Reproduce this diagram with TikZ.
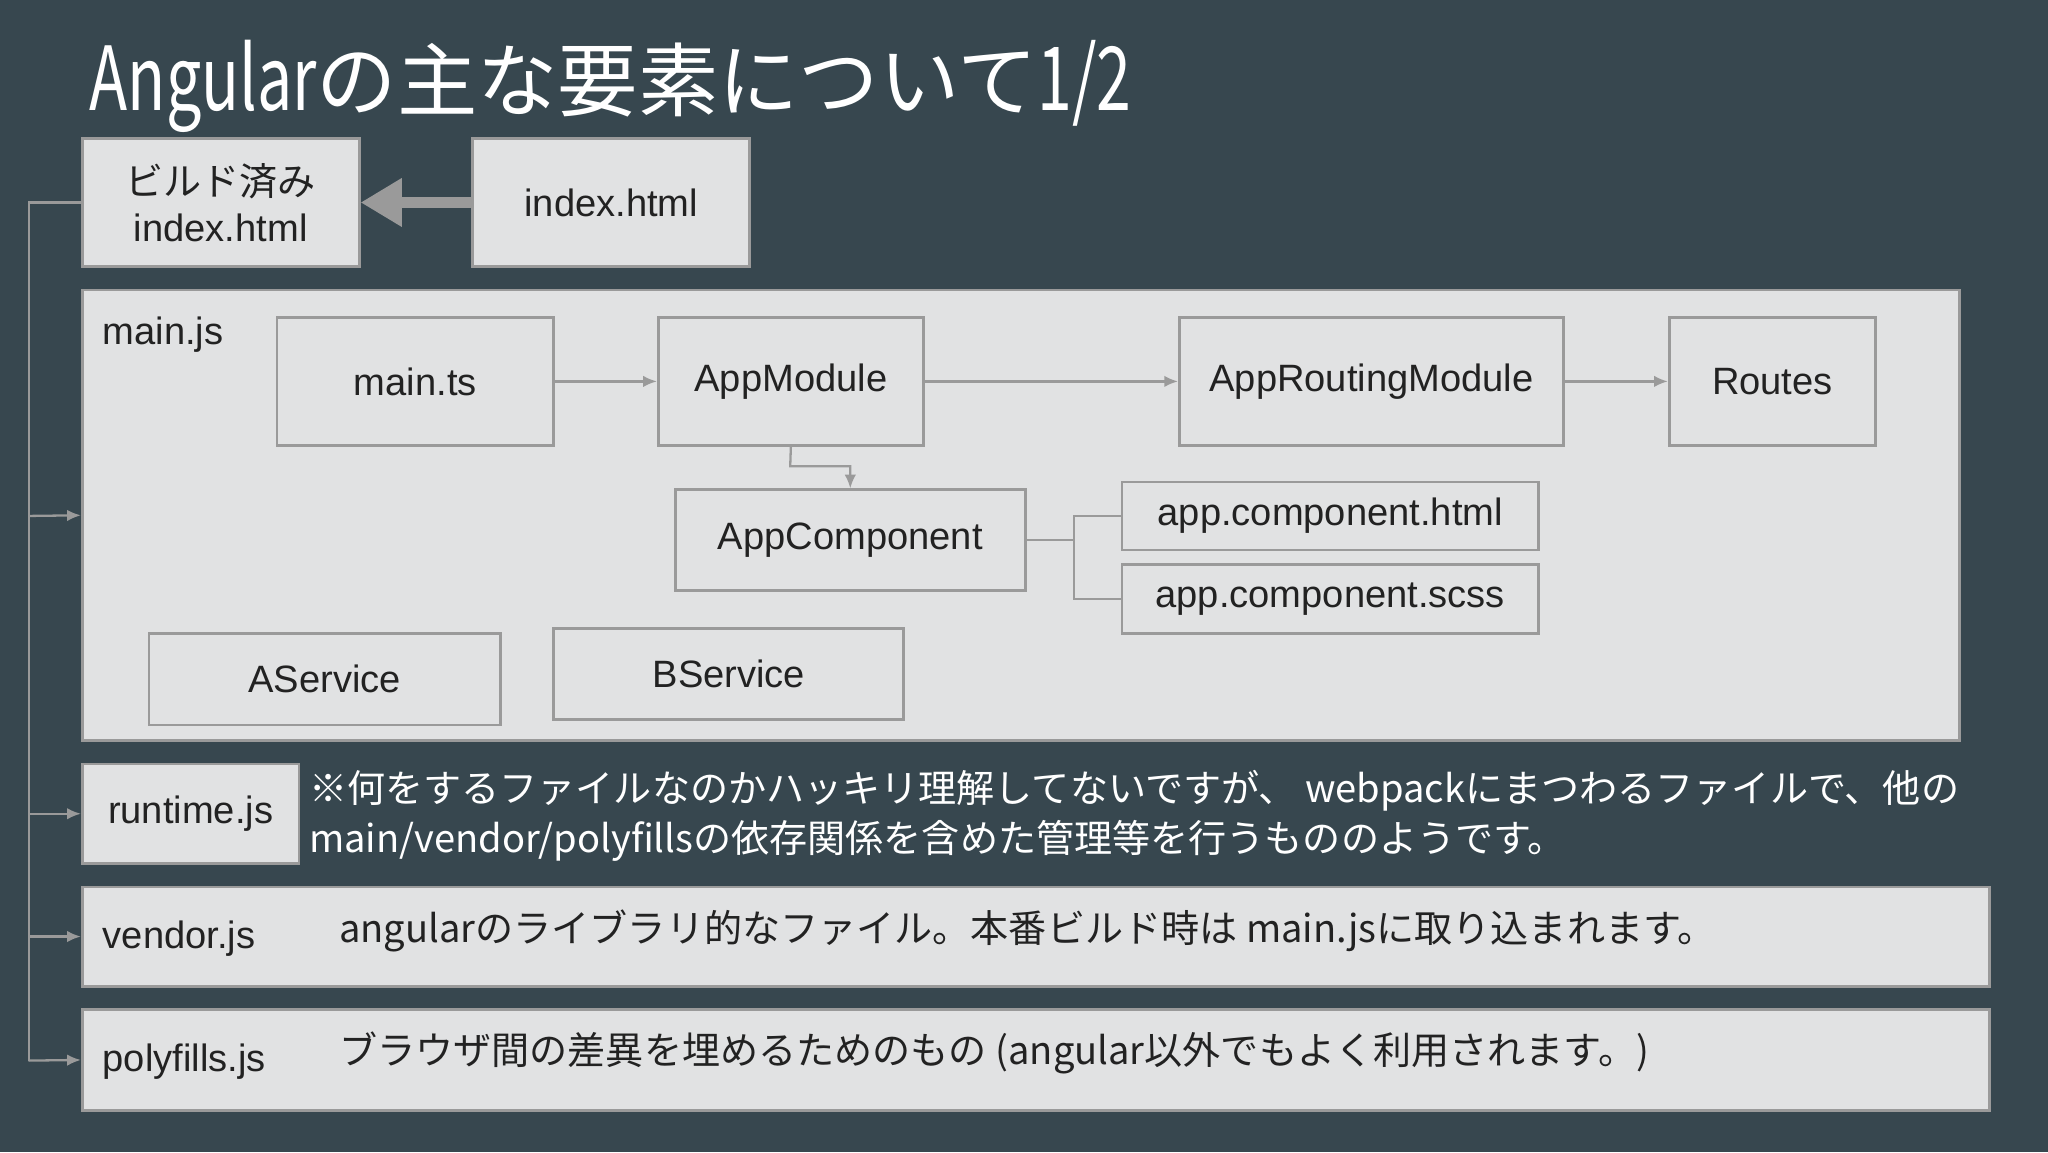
\documentclass[tikz,border=0pt]{standalone}
\usepackage{fontspec}
\setmainfont{Liberation Sans}
\newfontfamily\jp{Noto Sans CJK JP}
\usetikzlibrary{arrows.meta}
\definecolor{bg}{HTML}{37474F}
\definecolor{boxfill}{HTML}{E1E2E3}
\definecolor{boxline}{HTML}{9A9A9A}
\definecolor{txt}{HTML}{222222}
\tikzset{
 bx/.style={draw=boxline,fill=boxfill,line width=0.6pt,inner sep=0pt,text=txt,font=\fontsize{8.3pt}{10pt}\selectfont,align=center},
 conn/.style={draw=boxline,line width=0.5pt},
 arr/.style={conn,-{Latex[length=3pt,width=2.5pt]}},
 lbl/.style={text=txt,font=\fontsize{8.3pt}{10.5pt}\selectfont,inner sep=0pt,anchor=west,align=left}
}
\begin{document}
\begin{tikzpicture}
\fill[bg] (0,0) rectangle (15.68,-8.82);
\useasboundingbox (0,0) rectangle (15.68,-8.82);
\node[anchor=west,text=white,inner sep=0pt,font=\jp\fontsize{17.5pt}{20pt}\selectfont] (title) at (0.68,-0.66) {\scalebox{0.78}[1.1]{Angular}の主な要素について\scalebox{0.78}[1.1]{1/2}};
% top boxes
\node[bx,minimum width=2.12cm,minimum height=0.98cm] (built) at (1.69,-1.55) {{\jp ビルド済み}\\index.html};
\node[bx,minimum width=2.12cm,minimum height=0.98cm] (idx) at (4.68,-1.55) {index.html};
\draw[draw=boxline,line width=2.5pt,-{Triangle[length=9pt,width=10pt]}] (idx.west) -- (built.east);
% main.js
\node[bx,minimum width=14.37cm,minimum height=3.45cm] (mainjs) at (7.815,-3.945) {};
\node[lbl] (mainlbl) at (0.78,-2.56) {main.js};
\node[bx,minimum width=2.12cm,minimum height=0.98cm] (mts) at (3.18,-2.92) {main.ts};
\node[bx,minimum width=2.03cm,minimum height=0.98cm] (am) at (6.055,-2.92) {AppModule};
\node[bx,minimum width=2.94cm,minimum height=0.98cm] (arm) at (10.50,-2.92) {AppRoutingModule};
\node[bx,minimum width=1.58cm,minimum height=0.98cm] (rt) at (13.57,-2.92) {Routes};
\node[bx,minimum width=2.68cm,minimum height=0.77cm] (ac) at (6.51,-4.135) {AppComponent};
\node[bx,minimum width=3.19cm,minimum height=0.52cm] (ach) at (10.185,-3.95) {app.component.html};
\node[bx,minimum width=3.19cm,minimum height=0.53cm] (acs) at (10.185,-4.585) {app.component.scss};
\node[bx,minimum width=2.69cm,minimum height=0.70cm] (as) at (2.485,-5.20) {AService};
\node[bx,minimum width=2.68cm,minimum height=0.70cm] (bs) at (5.58,-5.16) {BService};
\draw[arr] (mts.east) -- (am.west);
\draw[arr] (am.east) -- (arm.west);
\draw[arr] (arm.east) -- (rt.west);
\coordinate (amd) at (6.05,-3.57);
\draw[arr] (am.south) -- (amd) -| (ac.north);
\coordinate (split) at (8.22,-4.135);
\draw[conn] (ac.east) -- (split) |- (ach.west);
\draw[conn] (split) |- (acs.west);
% runtime
\node[bx,minimum width=1.66cm,minimum height=0.76cm] (run) at (1.46,-6.23) {runtime.js};
\node[lbl,text=white,font=\jp\fontsize{8.3pt}{10.8pt}\selectfont] (runtxt) at (2.36,-6.245) {※何をするファイルなのかハッキリ理解してないですが、 webpackにまつわるファイルで、他の\\main/vendor/polyfillsの依存関係を含めた管理等を行うもののようです。};
% vendor
\node[bx,minimum width=14.60cm,minimum height=0.76cm] (ven) at (7.93,-7.17) {};
\node[lbl] (venl) at (0.78,-7.19) {vendor.js};
\node[lbl,font=\jp\fontsize{8.3pt}{10pt}\selectfont] (vent) at (2.59,-7.13) {angularのライブラリ的なファイル。本番ビルド時は main.jsに取り込まれます。};
% polyfills
\node[bx,minimum width=14.60cm,minimum height=0.77cm] (pol) at (7.93,-8.115) {};
\node[lbl] (poll) at (0.78,-8.13) {polyfills.js};
\node[lbl,font=\jp\fontsize{8.3pt}{10pt}\selectfont] (polt) at (2.59,-8.06) {ブラウザ間の差異を埋めるためのもの (angular以外でもよく利用されます。)};
% left bracket
\coordinate (lt) at (0.22,-1.55);
\coordinate (lb) at (0.22,-8.12);
\draw[conn] (built.west) -- (lt) -- (lb);
\draw[arr] (0.22,-3.95) -- (mainjs.west);
\draw[arr] (0.22,-6.23) -- (run.west);
\draw[arr] (0.22,-7.17) -- (ven.west);
\draw[arr] (lb) -- (pol.west);
\end{tikzpicture}
\end{document}
